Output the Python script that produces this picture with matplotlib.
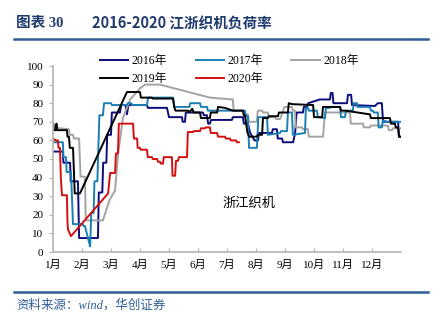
import matplotlib
matplotlib.use("Agg")
import matplotlib.pyplot as plt
from matplotlib.lines import Line2D

plt.rcParams['font.family'] = ['Liberation Serif', 'Noto Sans CJK SC']

# month position (0 = Jan 1) and load rate (%)
m16 = [0.03, 0.34, 0.36, 0.59, 0.61, 0.86, 0.9, 1.55, 1.58, 1.7, 1.73, 1.84, 1.87, 2.0, 2.03, 2.31, 2.35,
       2.5, 2.55, 2.6, 3.24, 3.27, 3.93, 4.0, 4.45, 4.47, 4.55, 4.58, 5.17, 5.2, 5.31, 5.35, 5.41, 5.45,
       6.17, 6.2, 6.55, 6.58, 6.72, 6.8, 6.95, 7.07, 7.1, 7.55, 7.58, 7.72, 7.75, 7.9, 7.93, 8.28, 8.35,
       8.4, 8.62, 8.65, 8.76, 8.8, 9.2, 9.55, 9.58, 9.64, 9.67, 10.14, 10.17, 10.28, 10.31, 11.1, 11.2,
       11.34, 11.38, 11.9, 11.93, 12.0]
v16 = [54, 54, 48, 48, 38, 38, 7.5, 7.5, 32, 32, 48, 48, 63, 63, 75, 75, 79,
       79, 74, 79, 79, 77.5, 77.5, 72.5, 72.5, 70, 70, 75, 75, 73.5, 73.5, 69, 69, 71,
       71, 72.5, 72.5, 69, 69, 64, 60, 60, 64, 64, 66, 66, 61, 61, 59, 59, 64,
       75, 75, 78, 78, 80, 82, 82, 85.5, 85.5, 80, 80, 84.5, 84.5, 79, 78.5, 80,
       80, 70, 70, 62, 62]

m17 = [0.0, 0.34, 0.36, 0.45, 0.47, 0.62, 0.69, 1.03, 1.05, 1.1, 1.28, 1.32, 1.4, 1.43, 1.53, 1.56, 1.6,
       1.72, 1.76, 2.0, 2.03, 2.55, 2.58, 2.7, 2.73, 3.24, 3.28, 4.14, 4.18, 4.7, 4.73, 5.07, 5.1, 5.31,
       5.34, 6.62, 6.65, 6.72, 6.76, 7.03, 7.05, 7.08, 7.38, 7.41, 7.83, 7.86, 8.07, 8.1, 8.24, 8.27,
       8.69, 8.72, 8.79, 8.82, 9.1, 9.13, 9.38, 9.41, 9.55, 9.58, 9.9, 9.93, 10.07, 10.1, 10.34, 10.37,
       10.48, 10.5, 10.93, 10.96, 11.03, 11.06, 11.2, 11.23, 11.34, 11.37, 11.45, 11.48, 11.97]
v17 = [59, 59, 51, 51, 43, 43, 15, 15, 14, 14, 3, 21, 21, 38, 38, 54, 73.5,
       73.5, 80, 80, 79, 79, 80, 80, 79, 79, 83, 83, 78, 78, 80, 80, 78, 78,
       76, 76, 73, 73, 56, 56, 62, 72.5, 72.5, 63, 64, 65, 65, 75, 75, 63,
       64, 77.5, 77.5, 76, 76, 72.5, 72, 77.5, 77.5, 78, 78, 72.5, 72.5, 76, 76, 80,
       80, 78, 78, 76, 76, 75, 75, 67, 67, 70.5, 70.5, 70, 70]

m18 = [0.0, 0.05, 0.24, 0.55, 0.58, 0.69, 0.72, 0.9, 0.95, 1.1, 1.13, 1.72, 1.95, 2.14, 2.24, 2.41, 2.66,
       3.0, 3.17, 3.69, 5.41, 6.2, 6.23, 6.55, 6.58, 6.72, 6.75, 7.03, 7.06, 7.21, 7.24, 7.41, 7.44,
       7.66, 7.69, 7.83, 7.98, 8.24, 8.27, 8.34, 8.37, 8.59, 8.62, 8.79, 8.82, 9.31, 9.38, 10.24, 10.27,
       10.69, 10.72, 10.93, 10.96, 11.55, 11.58, 11.69, 11.72, 11.97]
v18 = [70, 67, 66.5, 66, 63, 63, 61, 61, 40.5, 40.5, 17, 17, 28, 33, 52, 72, 82,
       88, 90, 90, 83, 82, 76, 76, 74, 74, 70, 70, 76, 76, 75, 75, 72.5,
       72.5, 71.5, 71.5, 78, 78, 76, 76, 67, 67, 66, 66, 62, 62, 75, 75, 69,
       69, 67, 67, 68, 68, 65.5, 65.5, 66.5, 66.5]

m19 = [0.0, 0.03, 0.1, 0.12, 0.14, 0.48, 0.5, 0.55, 0.58, 0.69, 0.75, 0.93, 2.55, 3.0, 3.03, 3.41, 3.44,
       4.14, 4.18, 4.22, 4.66, 4.7, 4.8, 4.85, 5.07, 5.1, 5.41, 5.44, 5.66, 5.69, 5.93, 6.2, 6.55, 6.58,
       6.62, 6.7, 6.76, 7.03, 7.06, 7.21, 7.24, 7.41, 7.44, 7.76, 7.79, 8.1, 8.13, 8.24, 8.97, 9.0, 9.28,
       9.31, 9.9, 9.93, 10.07, 10.93, 10.96, 11.62, 11.65, 11.79, 11.82, 11.9, 11.93, 12.0]
v19 = [69, 65.5, 65.5, 69, 65.5, 65.5, 62, 62, 56, 56, 31.5, 31.5, 86, 86, 83, 83, 82.5,
       82.5, 78, 76, 76, 75, 77, 75, 75, 72, 72, 75, 75, 78, 77.5, 76, 76, 73.5,
       73.5, 64.5, 62, 62, 63, 63, 72, 72, 73, 73, 75, 75, 80, 79.5, 79, 72.5, 72.5,
       78, 78, 76, 76, 74, 72, 72, 69, 69, 67, 67, 62, 62]

m20 = [0.0, 0.1, 0.17, 0.19, 0.24, 0.27, 0.31, 0.48, 0.5, 0.52, 0.62, 1.9, 1.97, 2.14, 2.17, 2.24, 2.27,
       2.76, 2.79, 2.9, 2.92, 3.0, 3.02, 3.24, 3.27, 3.41, 3.44, 3.59, 3.62, 3.69, 3.72, 3.79, 3.82,
       4.1, 4.12, 4.21, 4.24, 4.31, 4.34, 4.62, 4.65, 4.83, 4.86, 5.07, 5.1, 5.24, 5.27, 5.41, 5.44,
       5.66, 5.69, 5.93, 5.96, 6.1, 6.13, 6.31, 6.34, 6.41]
v20 = [61, 60, 60, 56, 56, 40, 30.5, 30.5, 15.5, 12, 8.5, 31.5, 42.5, 42.5, 53, 53, 69,
       69, 61, 61, 56, 56, 55, 55, 51, 51, 50, 50, 48.5, 48.5, 47.5, 47.5, 51,
       51, 41, 41, 49, 49, 51, 51, 64.5, 64.5, 65, 65, 66.5, 66.5, 67, 67, 64,
       64, 62, 62, 61, 61, 60, 60, 59, 59]

months = ['1月', '2月', '3月', '4月', '5月', '6月', '7月', '8月', '9月', '10月', '11月', '12月']
yticks = [0, 10, 20, 30, 40, 50, 60, 70, 80, 90, 100]

fig = plt.figure(figsize=(4.41, 3.23), dpi=100)
ax = fig.add_axes([53 / 441, 1 - 252 / 323, 348 / 441, 186 / 323])

h16, = ax.plot(m16, v16, color='#0c0c7a', lw=1.4, label='2016年')
h18, = ax.plot(m18, v18, color='#a3a3a3', lw=1.4, label='2018年')
h17, = ax.plot(m17, v17, color='#1a7fb5', lw=1.4, label='2017年')
h19, = ax.plot(m19, v19, color='#000000', lw=1.4, label='2019年')
h20, = ax.plot(m20, v20, color='#d40f0f', lw=1.4, label='2020年')

ax.set_xlim(0, 12)
ax.set_ylim(0, 100)
ax.set_xticks(range(12))
ax.set_xticklabels(months)
ax.set_yticks(yticks)
for s in ['top', 'right']:
    ax.spines[s].set_visible(False)
for s in ['left', 'bottom']:
    ax.spines[s].set_color('#b5b5b5')
    ax.spines[s].set_linewidth(1.2)
ax.tick_params(axis='x', direction='in', length=3, color='#b5b5b5', labelsize=8, pad=6)
ax.tick_params(axis='y', direction='out', length=3, color='#b5b5b5', labelsize=8, pad=4)

ax.text(6.75, 26, '浙江织机', fontsize=9.5, ha='center', va='center')

leg = ax.legend(handles=[h16, h19, h17, h20, h18], ncol=3, frameon=False, fontsize=8.5,
                loc='upper left', bbox_to_anchor=(100 / 441, 1 - 55 / 323),
                bbox_transform=fig.transFigure, handlelength=2.4, handletextpad=0.3,
                columnspacing=2.4, labelspacing=0.5, borderpad=0, borderaxespad=0)

# title and frame lines
fig.text(16 / 441, 1 - 23 / 323, '图表 30', fontsize=10.5, fontweight='bold', color='#1f3b6e',
         va='center', ha='left')
fig.text(92 / 441, 1 - 23 / 323, '2016-2020 江浙织机负荷率', fontsize=10.5, fontweight='bold',
         color='#1f3b6e', va='center', ha='left', family=['Noto Sans CJK SC'])
fig.add_artist(Line2D([14 / 441, 428 / 441], [1 - 39 / 323] * 2, color='#2f5f98', lw=1.8))
fig.add_artist(Line2D([14 / 441, 428 / 441], [1 - 292 / 323] * 2, color='#2f5f98', lw=1.8))
fig.text(16 / 441, 1 - 305 / 323, '资料来源：wind，华创证券', fontsize=9, style='italic',
         color='#2f5f98', va='center', ha='left')

fig.savefig('out.png', dpi=100)
